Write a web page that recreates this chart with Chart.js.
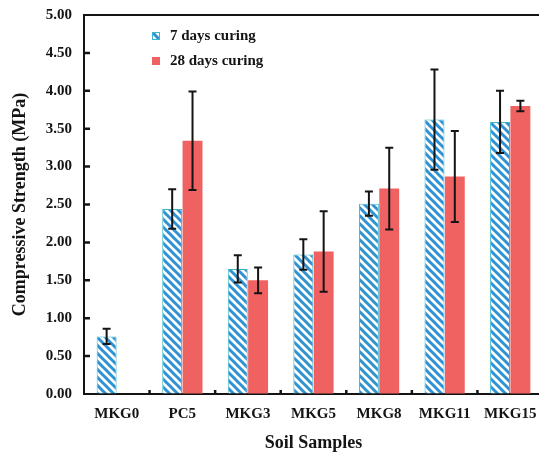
<!DOCTYPE html>
<html>
<head>
<meta charset="utf-8">
<script src="https://cdn.jsdelivr.net/npm/chart.js@4.4.1/dist/chart.umd.min.js"></script>
<style>
  html, body { margin: 0; padding: 0; background: #fff; overflow: hidden; }
  #wrap { position: relative; width: 548px; height: 454px; }
</style>
</head>
<body>
<div id="wrap"><canvas id="chart"></canvas></div>
<script>
const samples = ['MKG0', 'PC5', 'MKG3', 'MKG5', 'MKG8', 'MKG11', 'MKG15'];
const days7 = [0.76, 2.44, 1.65, 1.84, 2.51, 3.62, 3.59];
const days7Err = [0.10, 0.26, 0.18, 0.20, 0.16, 0.66, 0.41];
const days28 = [null, 3.34, 1.50, 1.88, 2.71, 2.87, 3.80];
const days28Err = [null, 0.65, 0.17, 0.53, 0.54, 0.60, 0.07];
const yTicks = [0, 0.5, 1, 1.5, 2, 2.5, 3, 3.5, 4, 4.5, 5];

const serif = '"Liberation Serif", "Times New Roman", serif';
const ink = '#141414';
const stripeBlue = '#2f92d2';
const edgeTeal = '#3cb6c8';
const red = '#f06262';

function stripePattern() {
  const s = 8;
  const c = document.createElement('canvas');
  c.width = s;
  c.height = s;
  const g = c.getContext('2d');
  g.fillStyle = '#ffffff';
  g.fillRect(0, 0, s, s);
  g.strokeStyle = stripeBlue;
  g.lineWidth = 3;
  g.beginPath();
  g.moveTo(-2, -2); g.lineTo(s + 2, s + 2);
  g.moveTo(-2, s - 2); g.lineTo(2, s + 2);
  g.moveTo(s - 2, -2); g.lineTo(s + 2, 2);
  g.stroke();
  return document.getElementById('chart').getContext('2d').createPattern(c, 'repeat');
}

const pattern = stripePattern();
const errors = [days7Err, days28Err];

const errorBars = {
  id: 'errorBars',
  afterDatasetsDraw(chart) {
    const ctx = chart.ctx;
    const y = chart.scales.y;
    ctx.save();
    ctx.strokeStyle = ink;
    ctx.lineWidth = 2;
    chart.data.datasets.forEach((ds, di) => {
      const meta = chart.getDatasetMeta(di);
      meta.data.forEach((bar, i) => {
        const v = ds.data[i];
        const e = errors[di][i];
        if (v == null || e == null) return;
        const top = y.getPixelForValue(v + e);
        const bot = y.getPixelForValue(v - e);
        const x = bar.x;
        ctx.beginPath();
        ctx.moveTo(x, top); ctx.lineTo(x, bot);
        ctx.moveTo(x - 4, top); ctx.lineTo(x + 4, top);
        ctx.moveTo(x - 4, bot); ctx.lineTo(x + 4, bot);
        ctx.stroke();
      });
    });
    ctx.restore();
  },
};

const frame = {
  id: 'frame',
  afterDraw(chart) {
    const ctx = chart.ctx;
    const a = chart.chartArea;
    const x = chart.scales.x;
    const y = chart.scales.y;
    ctx.save();
    ctx.strokeStyle = ink;
    ctx.lineWidth = 2;
    ctx.beginPath();
    ctx.moveTo(a.left - 1, a.top); ctx.lineTo(a.right + 10, a.top);
    ctx.stroke();
    // inward ticks
    ctx.lineWidth = 2.5;
    ctx.beginPath();
    yTicks.forEach((t) => {
      const py = y.getPixelForValue(t);
      if (t === 0 || t === 5) return;
      ctx.moveTo(a.left, py); ctx.lineTo(a.left + 6, py);
    });
    for (let i = 0; i < samples.length - 1; i++) {
      const px = (x.getPixelForValue(i) + x.getPixelForValue(i + 1)) / 2;
      ctx.moveTo(px, a.bottom); ctx.lineTo(px, a.bottom - 4);
    }
    ctx.stroke();
    ctx.restore();
  },
};

const insideLegend = {
  id: 'insideLegend',
  afterDraw(chart) {
    const ctx = chart.ctx;
    ctx.save();
    ctx.font = 'bold 15px ' + serif;
    ctx.textBaseline = 'middle';
    ctx.fillStyle = ink;
    const items = chart.data.datasets;
    items.forEach((ds, i) => {
      const cy = 36 + i * 25;
      const bx = 152;
      ctx.fillStyle = ds.backgroundColor;
      ctx.fillRect(bx, cy - 4, 8, 8);
      if (ds.borderWidth) {
        ctx.strokeStyle = ds.borderColor;
        ctx.lineWidth = 1;
        ctx.strokeRect(bx + 0.5, cy - 3.5, 7, 7);
      }
      ctx.fillStyle = ink;
      ctx.fillText(ds.label, 170, cy);
    });
    ctx.restore();
  },
};

new Chart(document.getElementById('chart'), {
  type: 'bar',
  data: {
    labels: samples,
    datasets: [
      {
        label: '7 days curing',
        data: days7,
        backgroundColor: pattern,
        borderColor: edgeTeal,
        borderWidth: 1,
        categoryPercentage: 0.62,
        barPercentage: 0.98,
      },
      {
        label: '28 days curing',
        data: days28,
        backgroundColor: red,
        borderWidth: 0,
        categoryPercentage: 0.62,
        barPercentage: 0.98,
      },
    ],
  },
  options: {
    responsive: true,
    maintainAspectRatio: false,
    animation: false,
    layout: { padding: { top: 15, right: 5, left: 0, bottom: 0 } },
    plugins: { legend: { display: false }, tooltip: { enabled: false } },
    scales: {
      x: {
        grid: { display: true, drawOnChartArea: false, drawTicks: false },
        border: { color: ink, width: 2 },
        ticks: { color: ink, font: { family: serif, size: 15, weight: 'bold' }, padding: 11 },
        title: {
          display: true,
          text: 'Soil Samples',
          color: ink,
          font: { family: serif, size: 18, weight: 'bold' },
          padding: { top: 0, bottom: 0 },
        },
        afterFit(scale) {
          scale.height = 60;
          scale.paddingLeft = 0;
          scale.paddingRight = 0;
        },
      },
      y: {
        min: 0,
        max: 5,
        afterBuildTicks(scale) { scale.ticks = yTicks.map((v) => ({ value: v })); },
        grid: { display: true, drawOnChartArea: false, drawTicks: false },
        border: { color: ink, width: 2 },
        ticks: {
          color: ink,
          font: { family: serif, size: 15, weight: 'bold' },
          padding: 12,
          callback: (v) => Number(v).toFixed(2),
        },
        title: {
          display: true,
          text: 'Compressive Strength (MPa)',
          color: ink,
          font: { family: serif, size: 18, weight: 'bold' },
          padding: { top: 10, bottom: 0 },
        },
        afterFit(scale) {
          scale.width = 84;
          scale.paddingTop = 0;
          scale.paddingBottom = 0;
        },
      },
    },
  },
  plugins: [errorBars, frame, insideLegend],
});
</script>
</body>
</html>
